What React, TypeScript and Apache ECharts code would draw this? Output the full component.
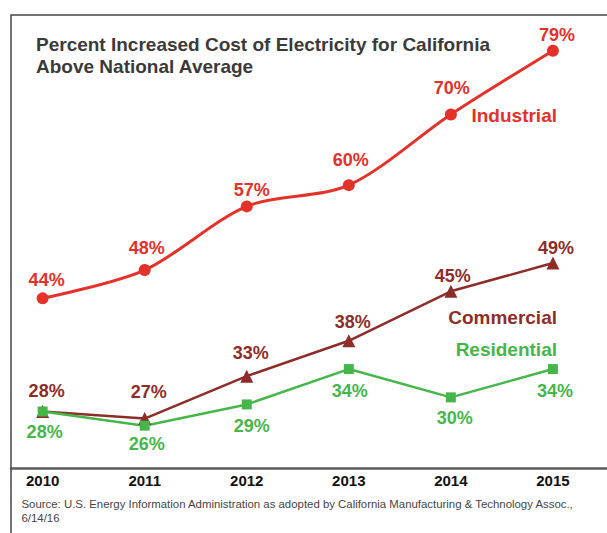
import React, { useEffect, useRef } from "react";
import * as echarts from "echarts";

const years = [2010, 2011, 2012, 2013, 2014, 2015];
const industrial = [44, 48, 57, 60, 70, 79];
const commercial = [28, 27, 33, 38, 45, 49];
const residential = [28, 26, 29, 34, 30, 34];

const titleText = "Percent Increased Cost of Electricity for California\nAbove National Average";
const sourceText =
  "Source: U.S. Energy Information Administration as adopted by California Manufacturing & Technology Assoc.,\n6/14/16";

// label nudges (layout only)
const industrialLabelOffset = [[4, -18], [2, -22], [5, -16], [2, -25], [1, -26], [4, -16]];
const commercialLabelOffset = [[4, -21], [4, -27], [4, -23], [4, -19], [2, -15], [3, -15]];
const residentialLabelOffset = [[2, 20], [2, 18], [5, 22], [1, 22], [4, 21], [2, 22]];

const RED = "#e4312a";
const BROWN = "#8d2d2a";
const GREEN = "#46b64a";
const FONT = "'Liberation Sans', Arial, Helvetica, sans-serif";

function buildData(vals: number[], offs: number[][]) {
  return years.map((y, i) => ({ value: [y, vals[i]], label: { offset: offs[i] } }));
}

export default function App() {
  const ref = useRef<HTMLDivElement>(null);
  useEffect(() => {
    if (!ref.current) return;
    const chart = echarts.init(ref.current, undefined, { renderer: "svg" });
    const labelBase = (color: string) => ({
      show: true,
      position: "inside",
      color,
      fontFamily: FONT,
      fontWeight: "bold",
      fontSize: 18,
      formatter: (p: any) => p.value[1] + "%",
    });
    chart.setOption({
      animation: false,
      backgroundColor: "#ffffff",
      title: {
        text: titleText,
        left: 36,
        top: 33,
        padding: 0,
        textStyle: {
          fontFamily: FONT,
          fontWeight: "bold",
          fontSize: 19,
          lineHeight: 22,
          color: "#3a3a3a",
        },
      },
      grid: { left: 11, right: 0, top: 43.7, bottom: 64.9, containLabel: false },
      xAxis: {
        type: "value",
        min: 2009.69,
        max: 2015.53,
        axisLine: { show: true, lineStyle: { color: "#5a5a5a", width: 2.5 } },
        axisTick: { show: false },
        splitLine: { show: false },
        axisLabel: {
          customValues: years,
          formatter: (v: number) => String(v),
          color: "#111111",
          fontFamily: FONT,
          fontWeight: "bold",
          fontSize: 15,
          margin: 5,
        },
      },
      yAxis: {
        type: "value",
        min: 20,
        max: 80,
        show: false,
      },
      graphic: [
        {
          type: "rect",
          z: -10,
          shape: { x: 11, y: 15, width: 700, height: 600 },
          style: { fill: "none", stroke: "#444444", lineWidth: 1.5 },
          silent: true,
        },
        {
          type: "text",
          x: 21.5,
          y: 497,
          style: {
            text: sourceText,
            fontFamily: FONT,
            fontSize: 11.4,
            lineHeight: 14,
            fill: "#444444",
          },
        },
        {
          type: "text",
          x: 557,
          y: 115.7,
          style: {
            text: "Industrial",
            align: "right",
            verticalAlign: "middle",
            fontFamily: FONT,
            fontWeight: "bold",
            fontSize: 19,
            fill: RED,
          },
        },
        {
          type: "text",
          x: 557,
          y: 317,
          style: {
            text: "Commercial",
            align: "right",
            verticalAlign: "middle",
            fontFamily: FONT,
            fontWeight: "bold",
            fontSize: 19,
            fill: BROWN,
          },
        },
        {
          type: "text",
          x: 557,
          y: 349.5,
          style: {
            text: "Residential",
            align: "right",
            verticalAlign: "middle",
            fontFamily: FONT,
            fontWeight: "bold",
            fontSize: 19,
            fill: GREEN,
          },
        },
      ],
      series: [
        {
          name: "Industrial",
          type: "line",
          smooth: 0.3,
          symbol: "circle",
          symbolSize: 12,
          lineStyle: { color: RED, width: 3 },
          itemStyle: { color: RED },
          label: labelBase(RED),
          data: buildData(industrial, industrialLabelOffset),
        },
        {
          name: "Commercial",
          type: "line",
          symbol: "triangle",
          symbolSize: 13,
          lineStyle: { color: BROWN, width: 2.5 },
          itemStyle: { color: BROWN },
          label: labelBase(BROWN),
          data: buildData(commercial, commercialLabelOffset),
        },
        {
          name: "Residential",
          type: "line",
          symbol: "rect",
          symbolSize: 10,
          lineStyle: { color: GREEN, width: 2.5 },
          itemStyle: { color: GREEN },
          label: labelBase(GREEN),
          data: buildData(residential, residentialLabelOffset),
        },
      ],
    });
    return () => chart.dispose();
  }, []);
  return <div ref={ref} style={{ width: 607, height: 533, position: "absolute", left: 0, top: 0 }} />;
}
